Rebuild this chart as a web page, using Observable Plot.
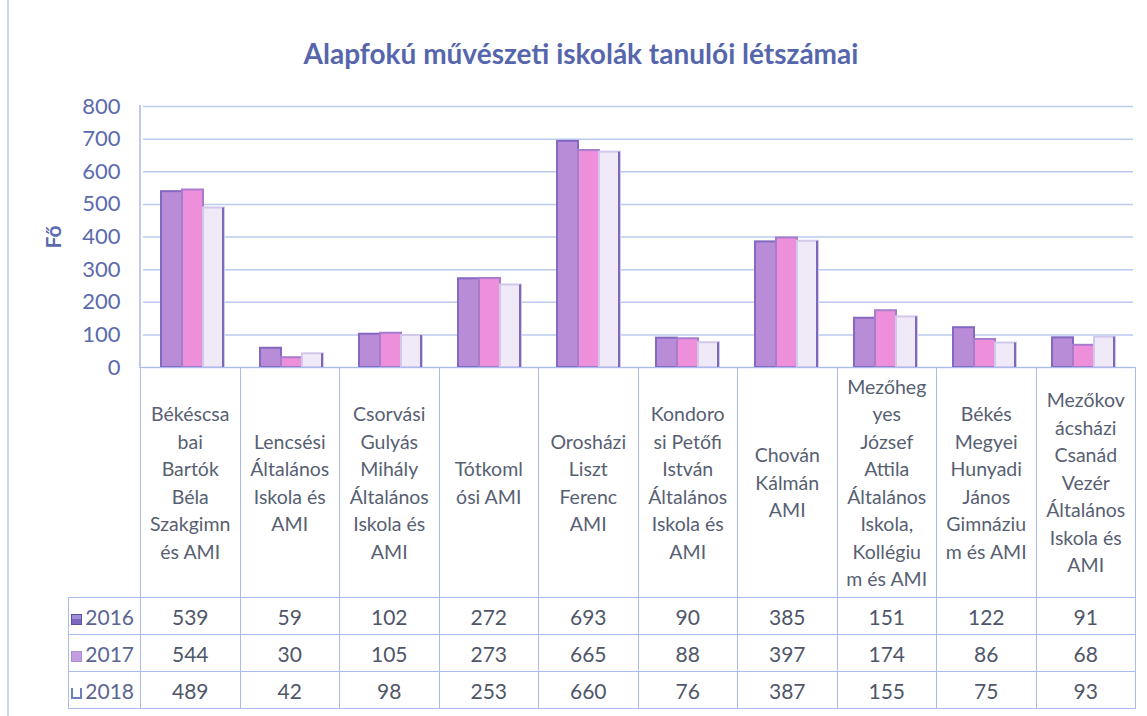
<!DOCTYPE html>
<html>
<head>
<meta charset="utf-8">
<script src="https://cdn.jsdelivr.net/npm/d3@7"></script>
<script src="https://cdn.jsdelivr.net/npm/@observablehq/plot@0.6"></script>
<style>
  html, body { margin: 0; padding: 0; background: #ffffff; }
  body { font-family: Lato, "Open Sans", "Noto Sans", sans-serif; }
  #wrap { position: relative; width: 1147px; height: 716px; overflow: hidden; background: #fff; }
  #frame { position: absolute; left: 7px; top: 0; width: 2px; height: 716px; background: #c9d4f3; }
  #title { position: absolute; left: 0; top: 36px; width: 1162px; text-align: center;
           font-size: 28px; font-weight: bold; color: #5666ad; }
  #ylabel { position: absolute; left: 52px; top: 237px; transform: translate(-50%, -50%) rotate(-90deg);
            font-size: 21px; font-weight: bold; color: #5b6aae; }
  #chart { position: absolute; left: 0; top: 90px; }
  #plotleft { position: absolute; left: 139px; top: 105px; width: 2px; height: 263px; background: #bccaf0; }
  #tbl { position: absolute; left: 68px; top: 367px; border-collapse: collapse; table-layout: fixed;
         color: #4f5669; }
  #tbl td { padding: 0; text-align: center; border: 1.5px solid #aabbed; }
  #tbl tr.labels td { height: 229px; vertical-align: middle; font-size: 19.5px; line-height: 27.5px;
                      white-space: pre-line; color: #585f72; }
  #tbl tr.labels td.corner { border-top: none; border-left: none; }
  #tbl tr.vals td { height: 36px; font-size: 21px; vertical-align: middle; }
  #tbl td.leg { text-align: right; padding-right: 6px; font-size: 20px; color: #5a6690; white-space: nowrap; }
  .key { display: inline-block; width: 11px; height: 11px; margin-right: 3px; vertical-align: 0px; box-sizing: border-box; }
</style>
</head>
<body>
<div id="wrap">
  <div id="frame"></div>
  <div id="title"></div>
  <div id="ylabel"></div>
  <div id="chart"></div>
  <div id="plotleft"></div>
  <table id="tbl"></table>
</div>
<script>
// ---- data ----
const title = "Alapfokú művészeti iskolák tanulói létszámai";
const yLabel = "Fő";
const schools = [
  "Békéscsa\nbai\nBartók\nBéla\nSzakgimn\n és AMI",
  "Lencsési\nÁltalános\nIskola és\nAMI",
  "Csorvási\nGulyás\nMihály\nÁltalános\nIskola és\nAMI",
  "Tótkoml\nósi  AMI",
  "Orosházi\nLiszt\nFerenc\nAMI",
  "Kondoro\nsi Petőfi\nIstván\nÁltalános\nIskola és\nAMI",
  "Chován\nKálmán\nAMI",
  "Mezőheg\nyes\nJózsef\nAttila\nÁltalános\nIskola,\nKollégiu\nm és AMI",
  "Békés\nMegyei\nHunyadi\nJános\nGimnáziu\nm és AMI",
  "Mezőkov\nácsházi\nCsanád\nVezér\nÁltalános\nIskola és\nAMI"
];
const years = ["2016", "2017", "2018"];
const v2016 = [539, 59, 102, 272, 693, 90, 385, 151, 122, 91];
const v2017 = [544, 30, 105, 273, 665, 88, 397, 174, 86, 68];
const v2018 = [489, 42, 98, 253, 660, 76, 387, 155, 75, 93];
const yTicks = [0, 100, 200, 300, 400, 500, 600, 700, 800];

// ---- styles ----
const fills = {"2016": "#b98cd7", "2017": "#ee8fdc", "2018": "#efe9f8"};
const edges = {"2016": "#8369c2", "2017": "#a77ccc", "2018": "#d2c8ea"};
const rightEdge = "#7e68ba";

const series = {"2016": v2016, "2017": v2017, "2018": v2018};
const data = years.flatMap(yr => schools.map((s, i) => ({school: s, year: yr, value: series[yr][i]})));

document.getElementById("title").textContent = title;
document.getElementById("ylabel").textContent = yLabel;

const chart = Plot.plot({
  width: 1147,
  height: 280,
  marginLeft: 140,
  marginRight: 12,
  marginTop: 16,
  marginBottom: 3,
  fx: {domain: schools, padding: 0, axis: null},
  x: {domain: years, paddingInner: 0.02, paddingOuter: 0.8, axis: null},
  y: {domain: [0, 800], axis: null},
  color: {type: "identity"},
  style: {fontFamily: "Lato, 'Open Sans', sans-serif", fontSize: "22px", color: "#5b6aae", background: "transparent", overflow: "visible"},
  marks: [
    Plot.gridY(yTicks, {stroke: "#bccaf0", strokeOpacity: 1, strokeWidth: 1.5}),
    Plot.barY(data, {fx: "school", x: "year", y: "value",
      fill: d => fills[d.year], stroke: d => edges[d.year], strokeWidth: 2}),
    Plot.barY(data.filter(d => d.year === "2018"), {fx: "school", x: "year", y: "value",
      fill: () => rightEdge, insetLeft: 19}),
    Plot.axisY(yTicks, {label: null, tickSize: 0, tickPadding: 23, fill: "#5b6aae", fontSize: 22})
  ]
});
document.getElementById("chart").appendChild(chart);

// ---- data table below the chart ----
const tbl = d3.select("#tbl");
const cg = tbl.append("colgroup");
cg.append("col").style("width", "72px");
schools.forEach(() => cg.append("col").style("width", "99.5px"));
tbl.style("width", (72 + 99.5 * schools.length) + "px");

const lr = tbl.append("tr").attr("class", "labels");
lr.append("td").attr("class", "corner");
schools.forEach(s => lr.append("td").text(s));

const keyStyle = {
  "2016": "background:#7b68c0;border:1px solid #5c4fa6;box-shadow:inset 0 4px 0 #a08ed6;",
  "2017": "background:#c49ee0;border:1px solid #a890d0;",
  "2018": "background:#fff;border:2px solid #6f7fb9;border-top:none;"
};
years.forEach(yr => {
  const tr = tbl.append("tr").attr("class", "vals");
  const leg = tr.append("td").attr("class", "leg");
  leg.append("span").attr("class", "key").attr("style", keyStyle[yr]);
  leg.append("span").text(yr);
  series[yr].forEach(v => tr.append("td").text(v));
});
</script>
</body>
</html>
